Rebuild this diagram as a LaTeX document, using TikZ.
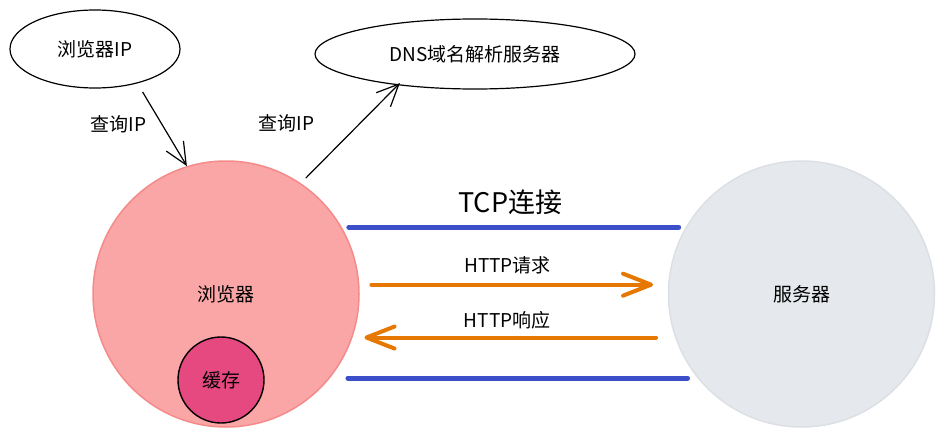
\documentclass[tikz,border=0pt]{standalone}
\usepackage{fontspec}
\setmainfont{Noto Sans CJK SC}
\usetikzlibrary{shapes.geometric, arrows.meta}
\usetikzlibrary{positioning}
\definecolor{browserfill}{HTML}{FAA6A6}
\definecolor{browserline}{HTML}{F58A8A}
\definecolor{cachefill}{HTML}{E64980}
\definecolor{serverfill}{HTML}{E5E8EC}
\definecolor{serverline}{HTML}{DCE0E5}
\definecolor{tcpblue}{HTML}{3B50C8}
\definecolor{httporange}{HTML}{E67700}
\tikzset{
  query_ellipse/.style={ellipse, draw, line width=1.2pt, inner sep=0pt},
  host_circle/.style={circle, line width=1.5pt, inner sep=0pt, minimum size=266pt},
  cache_circle/.style={circle, draw, fill=cachefill, line width=1.4pt, inner sep=0pt, minimum size=86pt},
  query_arrow/.style={line width=1.2pt, -{Straight Barb[length=22pt, width=20pt]}},
  tcp_line/.style={tcpblue, line width=5pt, line cap=round},
  http_arrow/.style={httporange, line width=4pt, line cap=round, -{Straight Barb[round, length=28pt, width=22pt]}},
}

\begin{document}
\begin{tikzpicture}[x=1pt, y=-1pt,
        every node/.style={text=black, font=\fontsize{19}{23}\selectfont},
      ]
      \useasboundingbox (0,0) rectangle (942,436);

      \node[query_ellipse, minimum width=170pt, minimum height=78pt] (1) at (95,49) {浏览器IP};
      \node[query_ellipse, minimum width=320pt, minimum height=70pt] (2) at (475,54) {DNS域名解析服务器};
      \node[host_circle, fill=browserfill, draw=browserline] (3) at (226,294) {浏览器};
      \node[host_circle, fill=serverfill, draw=serverline, right=308pt of 3] (4) {服务器};
      \node[cache_circle] (5) at (221,380) {缓存};

      % query IP
      \draw[query_arrow, shorten <=10pt] (1.-39) -- node[left=12pt] {查询IP} (3.107);
      \draw[query_arrow, shorten <=7pt, shorten >=-3pt] (3.56) -- node[left=31pt, yshift=11pt] {查询IP} (2.202);

      % tcp connection
      \draw[tcp_line, shorten <=7pt, shorten >=7pt] (3.30) -- node[pos=0.49, above=7pt, font=\fontsize{27}{31}\selectfont] {TCP连接} (4.150);
      \draw[tcp_line, shorten <=18pt, shorten >=10pt] (3.-39) -- (4.-141);

      % http
      \draw[http_arrow, shorten <=12pt, shorten >=15pt] (3.4) -- node[pos=0.48, above=5pt] {HTTP请求} (4.176);
      \draw[http_arrow, shorten <=19pt, shorten >=12pt] (4.199) -- node[pos=0.52, above=3pt] {HTTP响应} (3.-19);
    \end{tikzpicture}
\end{document}
